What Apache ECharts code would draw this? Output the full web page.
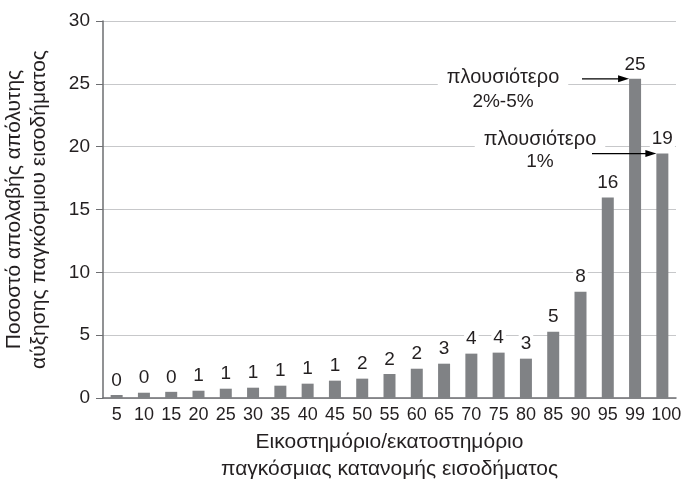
<!DOCTYPE html>
<html>
<head>
<meta charset="utf-8">
<script src="https://cdn.jsdelivr.net/npm/echarts@6/dist/echarts.min.js"></script>
<style>
  html, body { margin: 0; padding: 0; background: #ffffff; }
  #chart { width: 693px; height: 482px; }
</style>
</head>
<body>
<div id="chart"></div>
<script>
// Income percentile groups (ventiles, then the top percentiles)
const categories = ['5', '10', '15', '20', '25', '30', '35', '40', '45', '50', '55',
  '60', '65', '70', '75', '80', '85', '90', '95', '99', '100'];

// Share of absolute global income growth captured by each group (%)
const growthShare = [0.24, 0.42, 0.49, 0.58, 0.74, 0.82, 0.98, 1.14, 1.38, 1.54, 1.91,
  2.33, 2.73, 3.53, 3.61, 3.13, 5.28, 8.46, 15.95, 25.4, 19.45];

// Value-axis ticks
const yTicks = [0, 5, 10, 15, 20, 25, 30];

// Callouts pointing at the richest groups
const calloutText = [['πλουσιότερο', '2%-5%'], ['πλουσιότερο', '1%']];
const calloutTarget = ['99', '100'];

const FONT = 'Liberation Sans';
const FS = 19;
const TEXT = '#231f20';

const chart = echarts.init(document.getElementById('chart'));

chart.setOption({
  animation: false,
  textStyle: { fontFamily: FONT },
  grid: { left: 103, right: 17, top: 21, bottom: 84, outerBoundsMode: 'none', containLabel: false },
  xAxis: {
    type: 'category',
    data: categories,
    boundaryGap: true,
    name: 'Εικοστημόριο/εκατοστημόριο\nπαγκόσμιας κατανομής εισοδήματος',
    nameLocation: 'middle',
    nameGap: 31,
    nameTextStyle: { fontSize: 21, color: TEXT, lineHeight: 27, verticalAlign: 'top' },
    axisLine: { lineStyle: { color: '#6d6e71', width: 1.5 } },
    axisTick: { length: 6, lineStyle: { color: '#6d6e71' } },
    axisLabel: {
      fontSize: 18, color: TEXT, margin: 8, interval: 0,
      formatter: v => (v === '100' ? '{wide|' + v + '}' : v),
      rich: { wide: { fontSize: 18, color: TEXT, padding: [0, 0, 0, 8] } }
    }
  },
  yAxis: {
    type: 'value',
    min: yTicks[0],
    max: yTicks[yTicks.length - 1],
    interval: 5,
    name: 'Ποσοστό απολαβής απόλυτης\nαύξησης παγκόσμιου εισοδήματος',
    nameLocation: 'middle',
    nameGap: 51,
    nameRotate: 90,
    nameTextStyle: { fontSize: 21, color: TEXT, lineHeight: 25 },
    axisLine: { show: true, lineStyle: { color: '#6d6e71', width: 1.5 } },
    axisTick: { show: true, length: 7, lineStyle: { color: '#6d6e71' } },
    axisLabel: { fontSize: FS, color: TEXT, margin: 13 },
    splitLine: { lineStyle: { color: '#c7c8ca', width: 1.2 } }
  },
  series: [{
    type: 'bar',
    data: growthShare,
    barWidth: 12,
    itemStyle: { color: '#808285' },
    label: {
      show: true,
      position: 'top',
      distance: 5,
      fontSize: FS,
      color: TEXT,
      backgroundColor: '#ffffff',
      padding: [0, 2],
      formatter: p => Math.round(p.value)
    }
  }]
});

// Place the callouts relative to the bars they point at
function drawCallouts() {
  const elements = [];
  const half = 6;
  const starts = [582, 592];
  const textX = [503, 540];
  const textDy = [-1, -14];
  const lineGap = [24, 22];
  calloutTarget.forEach((cat, i) => {
    const idx = categories.indexOf(cat);
    const [cx, cy] = chart.convertToPixel({ gridIndex: 0 }, [idx, growthShare[idx]]);
    const endX = cx - half;
    elements.push({
      type: 'line', z: 100,
      shape: { x1: starts[i], y1: cy, x2: endX - 9, y2: cy },
      style: { stroke: '#000', lineWidth: 1.2 }
    });
    elements.push({
      type: 'polygon', z: 100,
      shape: { points: [[endX, cy], [endX - 11, cy - 3.5], [endX - 11, cy + 3.5]] },
      style: { fill: '#000' }
    });
    elements.push({
      type: 'text', z: 90,
      x: textX[i], y: cy + textDy[i],
      style: {
        text: calloutText[i][0], fontFamily: FONT, fontSize: 20, fill: TEXT,
        align: 'center', verticalAlign: 'middle',
        backgroundColor: '#ffffff', padding: [2, 9]
      }
    });
    elements.push({
      type: 'text', z: 90,
      x: textX[i], y: cy + textDy[i] + lineGap[i],
      style: {
        text: calloutText[i][1], fontFamily: FONT, fontSize: FS, fill: TEXT,
        align: 'center', verticalAlign: 'middle'
      }
    });
  });
  chart.setOption({ graphic: elements });
}
drawCallouts();
</script>
</body>
</html>
